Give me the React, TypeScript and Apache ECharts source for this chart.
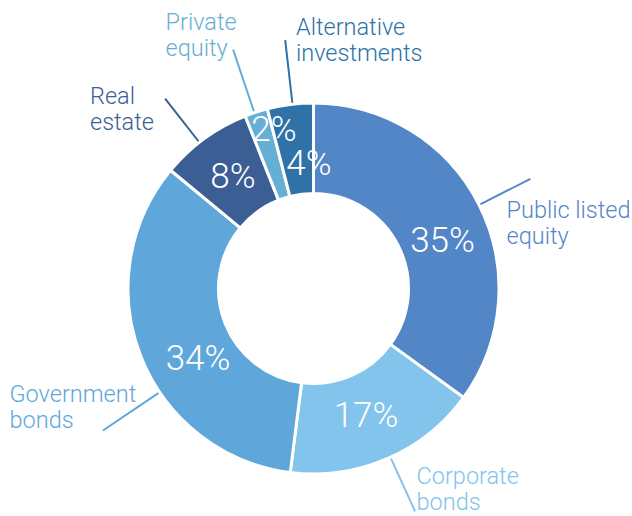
import React, { useEffect, useRef } from 'react';
import * as echarts from 'echarts';

// ---- data ----
const categories = [
  'Public listed equity',
  'Corporate bonds',
  'Government bonds',
  'Real estate',
  'Private equity',
  'Alternative investments',
];
const labelNames = [
  'Public listed\nequity',
  'Corporate\nbonds',
  'Government\nbonds',
  'Real\nestate',
  'Private\nequity',
  'Alternative\ninvestments',
];
const values = [35, 17, 34, 8, 2, 4];

// ---- styles / layout ----
const sliceColors = ['#5386c7', '#82c4ec', '#5fa7da', '#3b5e94', '#66afd4', '#2e72a7'];
const textColors = ['#5386c7', '#82c4ec', '#5fa7da', '#3b5e94', '#66afd4', '#2e72a7'];
const CX = 313.5;
const CY = 288.5;
const R_IN = 95;
const R_OUT = 185.5;
const R_EDGE = 184;
const leaderAngles = [63.2, 155.5, 236, 322, 341.4, 353.5];
const leaderEnds = [243, 245, 254, 241, 252, 250];
const nameAnchors = [
  [506.5, 222.5],
  [416.5, 489.3],
  [9.5, 406.5],
  [90, 108.5],
  [165.5, 34.5],
  [296, 39.5],
];
const valueAnchors = [
  [442.5, 240.5],
  [366, 415],
  [198, 358],
  [233, 176.3],
  [274, 129.7],
  [309, 163],
];

const polar = (deg: number, r: number): number[] => {
  const a = (deg * Math.PI) / 180;
  return [CX + r * Math.sin(a), CY - r * Math.cos(a)];
};

const FONT = 'Roboto, "Noto Sans", sans-serif';

export default function App() {
  const ref = useRef<HTMLDivElement>(null);
  useEffect(() => {
    if (!ref.current) return;
    const chart = echarts.init(ref.current, undefined, { renderer: 'svg' });
    const pieData = categories.map((name, i) => ({
      name,
      value: values[i],
      itemStyle: { color: sliceColors[i] },
    }));
    const outerData = categories.map((name, i) => ({
      name,
      value: values[i],
      itemStyle: { color: 'rgba(0,0,0,0)', borderWidth: 0 },
      label: { color: textColors[i] },
      labelLine: { lineStyle: { color: textColors[i] } },
    }));
    chart.setOption({
      animation: false,
      backgroundColor: '#ffffff',
      series: [
        {
          type: 'pie',
          center: [CX, CY],
          radius: [R_IN, R_OUT],
          startAngle: 90,
          clockwise: true,
          avoidLabelOverlap: false,
          silent: true,
          itemStyle: { borderColor: '#ffffff', borderWidth: 3 },
          label: {
            show: true,
            position: 'inside',
            formatter: '{c}%',
            color: '#ffffff',
            fontSize: 35,
            fontWeight: 300,
            fontFamily: FONT,
          },
          labelLine: { show: false },
          labelLayout: (p: any) => ({
            x: valueAnchors[p.dataIndex][0],
            y: valueAnchors[p.dataIndex][1],
            align: 'center',
            verticalAlign: 'middle',
          }),
          data: pieData,
          z: 2,
        },
        {
          type: 'pie',
          center: [CX, CY],
          radius: [R_IN, R_OUT],
          startAngle: 90,
          clockwise: true,
          avoidLabelOverlap: false,
          silent: true,
          label: {
            show: true,
            position: 'outside',
            formatter: (p: any) => labelNames[p.dataIndex],
            fontSize: 23.5,
            lineHeight: 26,
            fontWeight: 300,
            fontFamily: FONT,
            alignTo: 'none',
          },
          labelLine: {
            show: true,
            length: 50,
            length2: 0,
            lineStyle: { width: 2 },
          },
          labelLayout: (p: any) => {
            const i = p.dataIndex;
            return {
              x: nameAnchors[i][0],
              y: nameAnchors[i][1],
              align: 'left',
              verticalAlign: 'middle',
              labelLinePoints: [
                polar(leaderAngles[i], R_EDGE),
                polar(leaderAngles[i], leaderEnds[i]),
              ],
            };
          },
          data: outerData,
          z: 1,
        },
      ],
    });
    return () => chart.dispose();
  }, []);
  return (
    <div
      ref={ref}
      style={{ position: 'absolute', left: 0, top: 0, width: 632, height: 516 }}
    />
  );
}
